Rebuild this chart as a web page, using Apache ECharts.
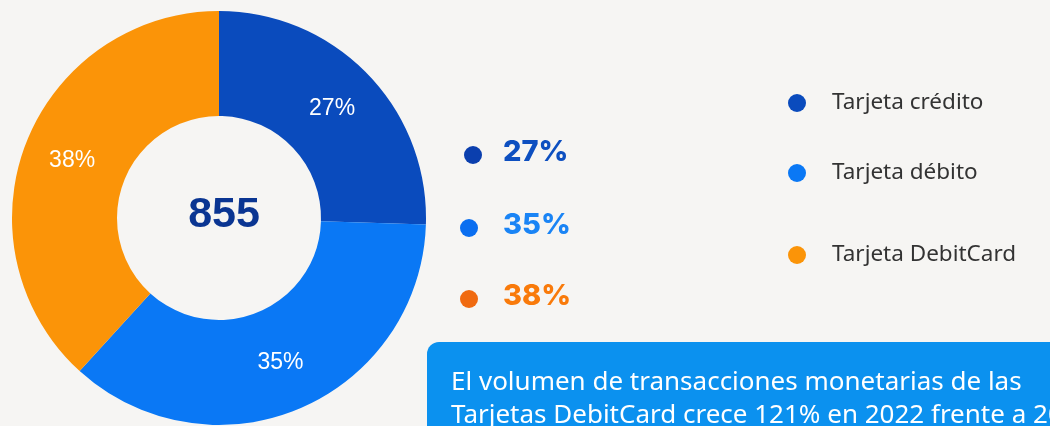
<!DOCTYPE html>
<html>
<head>
<meta charset="utf-8">
<script src="https://cdn.jsdelivr.net/npm/echarts@6/dist/echarts.min.js"></script>
<style>
  html, body { margin: 0; padding: 0; background: #f6f5f3; }
  #chart { width: 1050px; height: 426px; }
</style>
</head>
<body>
<div id="chart"></div>
<script>
// datos
var categorias = ['Tarjeta crédito', 'Tarjeta débito', 'Tarjeta DebitCard'];
var valores = [218, 310, 327];           // tamaño de cada sector
var porcentajes = [27, 35, 38];          // etiquetas tal como aparecen
var total = 855;
var colores = ['#0a4bbd', '#0a78f5', '#fb9408'];
var coloresLista = ['#0d4fc0', '#1a84f5', '#f97a0a'];
var coloresPunto = ['#0b3fae', '#0a6ef0', '#f06a10'];
var nota = ['El volumen de transacciones monetarias de las',
  'Tarjetas DebitCard crece 121% en 2022 frente a 2021.'];

var chart = echarts.init(document.getElementById('chart'), null, { renderer: 'canvas' });

// leyenda de la derecha (una por fila, el espaciado no es uniforme)
var legendTops = [103, 173, 255];
var legends = categorias.map(function (nombre, i) {
  return {
    data: [nombre],
    left: 788,
    top: legendTops[i] - 14,
    padding: 0,
    icon: 'circle',
    itemWidth: 18,
    itemHeight: 18,
    selectedMode: false,
    textStyle: {
      fontFamily: 'Noto Sans',
      fontSize: 22.5,
      color: '#333333',
      lineHeight: 28,
      padding: [0, 0, 0, 21]
    }
  };
});

// lista central de porcentajes
var listaTops = [152, 225, 296];
var graficos = [];
porcentajes.forEach(function (p, i) {
  graficos.push({
    type: 'circle',
    shape: { cx: i === 0 ? 473 : 469, cy: listaTops[i] + 3, r: 9 },
    style: { fill: coloresPunto[i] }
  });
  graficos.push({
    type: 'text',
    x: 503,
    y: listaTops[i],
    style: {
      text: p + '%',
      fill: coloresLista[i],
      font: '800 29px Inter',
      verticalAlign: 'middle'
    }
  });
});

// total en el centro
graficos.push({
  type: 'text',
  x: 224,
  y: 215,
  style: {
    text: String(total),
    fill: '#0a3592',
    font: 'bold 43px "Liberation Sans"',
    align: 'center',
    verticalAlign: 'middle'
  }
});

// recuadro azul con la nota
graficos.push({
  type: 'rect',
  shape: { x: 427, y: 342, width: 700, height: 120, r: [12, 0, 0, 0] },
  style: { fill: '#0b91ef' }
});
graficos.push({
  type: 'text',
  x: 451,
  y: 366,
  style: {
    text: nota.join('\n'),
    fill: '#ffffff',
    font: '26px "Noto Sans"',
    lineHeight: 33
  }
});

var option = {
  backgroundColor: '#f6f5f3',
  color: colores,
  legend: legends,
  graphic: graficos,
  series: [{
    type: 'pie',
    center: [219, 218],
    radius: [102, 207],
    startAngle: 90,
    clockwise: true,
    silent: true,
    label: {
      show: true,
      position: 'inside',
      formatter: function (p) { return porcentajes[p.dataIndex] + '%'; },
      color: '#ffffff',
      fontFamily: 'Liberation Sans',
      fontSize: 23
    },
    labelLine: { show: false },
    data: categorias.map(function (c, i) {
      return { name: c, value: valores[i] };
    })
  }]
};

chart.setOption(option);
</script>
</body>
</html>
